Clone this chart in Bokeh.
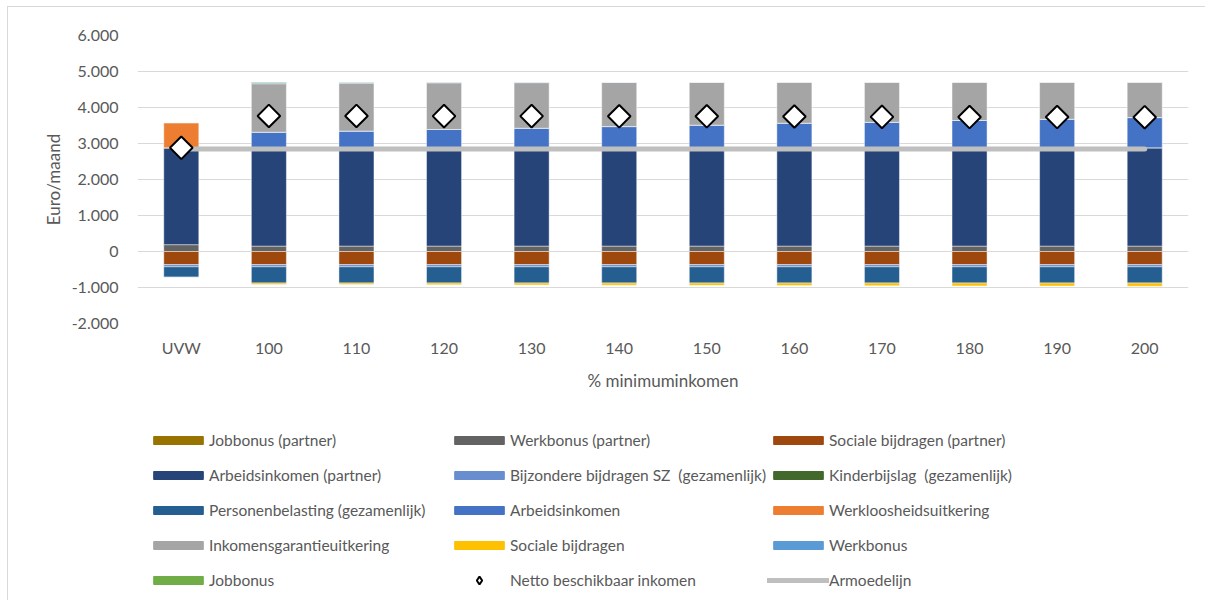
import numpy as np
from bokeh.plotting import figure
from bokeh.layouts import column
from bokeh.models import (ColumnDataSource, FactorRange, FixedTicker,
                          CustomJSTickFormatter, Legend, LegendItem)
from bokeh.embed import file_html
from bokeh.resources import INLINE

# ---------------- data ----------------
categories = ["UVW", "100", "110", "120", "130", "140", "150", "160", "170", "180", "190", "200"]

# positive components (stacked upwards)
jobbonus_partner        = [0, 0, 0, 0, 0, 0, 0, 0, 0, 0, 0, 0]
werkbonus_partner       = [190, 150, 150, 150, 150, 150, 150, 150, 150, 150, 150, 150]
arbeidsinkomen_partner  = [2690, 2730, 2730, 2730, 2730, 2730, 2730, 2730, 2730, 2730, 2730, 2730]
kinderbijslag           = [0, 0, 0, 0, 0, 0, 0, 0, 0, 0, 0, 0]
arbeidsinkomen          = [0, 435, 465, 510, 545, 590, 630, 685, 710, 760, 795, 840]
werkloosheidsuitkering  = [700, 0, 0, 0, 0, 0, 0, 0, 0, 0, 0, 0]
inkomensgarantie        = [0, 1345, 1330, 1295, 1265, 1225, 1190, 1140, 1115, 1065, 1030, 985]
werkbonus               = [0, 30, 25, 20, 15, 10, 5, 0, 0, 0, 0, 0]
jobbonus                = [0, 15, 5, 0, 0, 0, 0, 0, 0, 0, 0, 0]

# negative components (stacked downwards)
sociale_bijdragen_partner = [-365, -365, -365, -365, -365, -365, -365, -365, -365, -365, -365, -365]
bijzondere_bijdragen_sz   = [-60, -60, -60, -60, -60, -60, -60, -60, -60, -60, -60, -60]
personenbelasting         = [-290, -450, -450, -450, -450, -450, -450, -450, -450, -450, -450, -450]
sociale_bijdragen         = [0, -40, -45, -50, -55, -60, -65, -70, -75, -80, -85, -90]

netto_beschikbaar = [2880, 3765, 3765, 3760, 3760, 3755, 3755, 3750, 3740, 3735, 3735, 3730]
armoedelijn       = [2850, 2850, 2850, 2850, 2850, 2850, 2850, 2850, 2850, 2850, 2850, 2850]

y_ticks = [-2000, -1000, 0, 1000, 2000, 3000, 4000, 5000, 6000]

# ---------------- styling ----------------
TXT = "#595959"
FONT = "Lato"

pos_fields = ["jbp", "wbp", "aip", "kb", "ai", "wu", "ig", "wb", "jb"]
pos_colors = ["#997300", "#636363", "#264478", "#43682B", "#4472C4",
              "#ED7D31", "#A5A5A5", "#5B9BD5", "#70AD47"]
neg_fields = ["sbp", "bbsz", "pb", "sb"]
neg_colors = ["#9E480E", "#698ED0", "#255E91", "#FFC000"]
LINE_COLOR = "#BFBFBF"

src = ColumnDataSource(dict(
    cat=categories,
    jbp=jobbonus_partner, wbp=werkbonus_partner, aip=arbeidsinkomen_partner,
    kb=kinderbijslag, ai=arbeidsinkomen, wu=werkloosheidsuitkering,
    ig=inkomensgarantie, wb=werkbonus, jb=jobbonus,
    sbp=sociale_bijdragen_partner, bbsz=bijzondere_bijdragen_sz,
    pb=personenbelasting, sb=sociale_bijdragen,
    netto=netto_beschikbaar, armoede=armoedelijn,
))

p = figure(x_range=FactorRange(*categories), y_range=(-2000, 6000),
           frame_width=1051, frame_height=288,
           min_border_left=129, min_border_right=17,
           min_border_top=28, min_border_bottom=84,
           output_backend="svg", toolbar_location=None,
           background_fill_color="white", border_fill_color="white")
p.x_range.range_padding = 0
p.outline_line_color = None

p.vbar_stack(pos_fields, x="cat", width=0.4, color=pos_colors,
             line_color="white", line_alpha=0.45, line_width=1, source=src)
p.vbar_stack(neg_fields, x="cat", width=0.4, color=neg_colors,
             line_color="white", line_alpha=0.45, line_width=1, source=src)

p.line(x="cat", y="armoede", source=src, line_width=5,
       line_color=LINE_COLOR, line_cap="round")
p.scatter(x="cat", y="netto", source=src, marker="square", angle=np.pi / 4,
          size=16, fill_color="white", line_color="black", line_width=2)

# axes
p.yaxis.ticker = FixedTicker(ticks=y_ticks)
p.yaxis.formatter = CustomJSTickFormatter(code="""
const s = Math.abs(tick).toFixed(0).replace(/\\B(?=(\\d{3})+(?!\\d))/g, '.');
return (tick < 0 ? '-' : '') + s;
""")
for ax in (p.xaxis[0], p.yaxis[0]):
    ax.axis_line_color = None
    ax.major_tick_line_color = None
    ax.minor_tick_line_color = None
    ax.major_tick_out = 0
    ax.major_tick_in = 0
    ax.minor_tick_out = 0
    ax.minor_tick_in = 0
    ax.major_label_text_color = TXT
    ax.major_label_text_font = FONT
    ax.major_label_text_font_size = "16px"
    ax.axis_label_text_color = TXT
    ax.axis_label_text_font = FONT
    ax.axis_label_text_font_size = "17px"
    ax.axis_label_text_font_style = "normal"
p.yaxis.axis_label = "Euro/maand"
p.yaxis.major_label_standoff = 19
p.yaxis.axis_label_standoff = 5
p.xaxis.axis_label = "% minimuminkomen"
p.xaxis.major_label_standoff = 14
p.xaxis.axis_label_standoff = 10

p.xgrid.grid_line_color = None
p.ygrid.grid_line_color = "#D9D9D9"
p.ygrid.grid_line_width = 1

# ---------------- legend panel ----------------
lp = figure(width=1197, height=193, x_range=(0, 1), y_range=(0, 1),
            x_axis_type=None, y_axis_type=None, min_border=0,
            output_backend="svg", toolbar_location=None,
            background_fill_color="white", border_fill_color="white")
lp.outline_line_color = None
lp.grid.visible = False

# legend-only helper glyphs (a single NaN row, so nothing is drawn in the panel)
nan_src = ColumnDataSource(dict(x=[0.0], top=[float("nan")], y=[float("nan")]))

def swatch(color):
    return lp.vbar(x="x", top="top", width=0.4, color=color, source=nan_src)

sw = {f: swatch(c) for f, c in zip(pos_fields + neg_fields, pos_colors + neg_colors)}
dia_leg = lp.scatter(x="x", y="y", source=nan_src, marker="diamond",
                     size=16, fill_color="white", line_color="black", line_width=2)
line_leg = lp.line(x="x", y="y", source=nan_src, line_width=5,
                   line_color=LINE_COLOR, line_cap="round")

columns = [
    [("Jobbonus (partner)", sw["jbp"]),
     ("Arbeidsinkomen (partner)", sw["aip"]),
     ("Personenbelasting (gezamenlijk)", sw["pb"]),
     ("Inkomensgarantieuitkering", sw["ig"]),
     ("Jobbonus", sw["jb"])],
    [("Werkbonus (partner)", sw["wbp"]),
     ("Bijzondere bijdragen SZ  (gezamenlijk)", sw["bbsz"]),
     ("Arbeidsinkomen", sw["ai"]),
     ("Sociale bijdragen", sw["sb"])],
    [("Sociale bijdragen (partner)", sw["sbp"]),
     ("Kinderbijslag  (gezamenlijk)", sw["kb"]),
     ("Werkloosheidsuitkering", sw["wu"]),
     ("Werkbonus", sw["wb"]),
     ("Armoedelijn", line_leg)],
]
col_x = [10, 311, 630]
col_y = [10, 45, 10]

def make_legend(items, loc, gh):
    return Legend(items=[LegendItem(label=l, renderers=[r]) for l, r in items],
                  location=loc, orientation="vertical",
                  glyph_width=62, glyph_height=gh, label_standoff=0,
                  label_height=20, spacing=15, padding=0, margin=0,
                  border_line_color=None, background_fill_alpha=0,
                  label_text_font=FONT, label_text_font_size="15.5px",
                  label_text_color=TXT)

for cx, cy, col in zip(col_x, col_y, columns):
    lp.add_layout(make_legend(col, (cx, cy), 10))

# the marker entry gets a taller glyph box so that its diamond is legible
lp.add_layout(make_legend([("Netto beschikbaar inkomen", dia_leg)], (311, 10), 20))

layout = column(p, lp, spacing=0)
layout.styles = {"margin-left": "7px", "margin-top": "6px",
                 "border-left": "1px solid #D9D9D9", "border-top": "1px solid #D9D9D9"}

open("out.html", "w").write(file_html(layout, INLINE))
